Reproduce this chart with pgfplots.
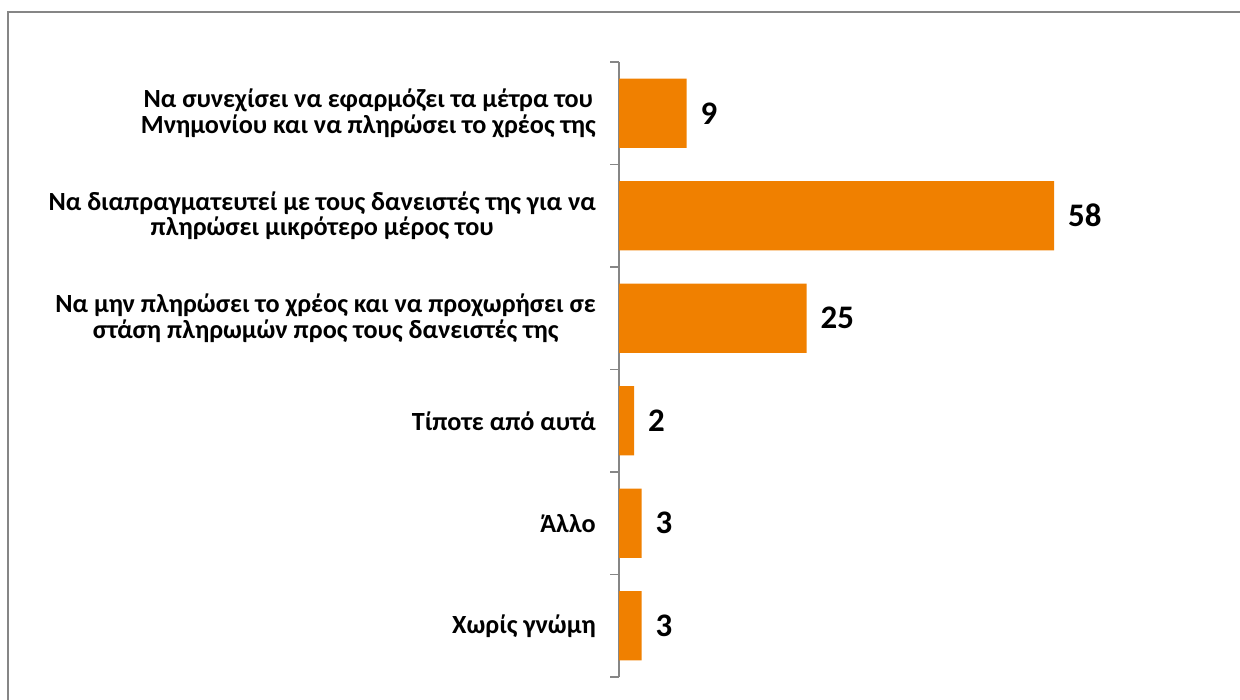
\documentclass[border=0pt]{standalone}
\usepackage{pgfplots}
\pgfplotsset{compat=1.18}
\usepackage{fontspec}
\setmainfont{Carlito}
\definecolor{barorange}{RGB}{240,128,0}
\definecolor{framegray}{RGB}{134,134,134}
\begin{document}
\begin{tikzpicture}
\useasboundingbox (0,0) rectangle (1240bp,700bp);
\draw[framegray, line width=2bp] (8bp,0) -- (8bp,688bp) -- (1240bp,688bp);
\begin{axis}[
  at={(619bp,23bp)}, anchor=south west,
  scale only axis, width=600bp, height=615bp,
  xbar, bar width=69.4bp,
  xmin=0, xmax=80,
  ymin=-0.5, ymax=5.5, y dir=reverse,
  hide x axis,
  axis y line*=left,
  y axis line style={framegray, line width=1.5bp},
  ytick={0,1,2,3,4,5},
  major tick length=0pt,
  minor ytick={-0.5,0.5,1.5,2.5,3.5,4.5,5.5},
  minor tick length=9bp,
  tick align=outside,
  minor tick style={framegray, line width=1.5bp},
  yticklabels={
    {Να συνεχίσει να εφαρμόζει τα μέτρα του\\Μνημονίου και να πληρώσει το χρέος της},
    {Να διαπραγματευτεί με τους δανειστές της για να\\πληρώσει μικρότερο μέρος του},
    {Να μην πληρώσει το χρέος και να προχωρήσει σε\\στάση πληρωμών προς τους δανειστές της},
    {Τίποτε από αυτά},
    {Άλλο},
    {Χωρίς γνώμη}},
  yticklabel style={align=center, font=\fontsize{26.3}{25.5}\selectfont\bfseries, inner sep=0pt, xshift=-23bp},
  nodes near coords,
  nodes near coords style={anchor=west, inner sep=0pt, xshift=14bp, font=\fontsize{33}{33}\selectfont\bfseries, text=black},
  /pgf/number format/assume math mode=true,
  clip=false,
]
\addplot[fill=barorange, draw=none] coordinates {(9,0) (58,1) (25,2) (2,3) (3,4) (3,5)};
\end{axis}
\end{tikzpicture}
\end{document}
